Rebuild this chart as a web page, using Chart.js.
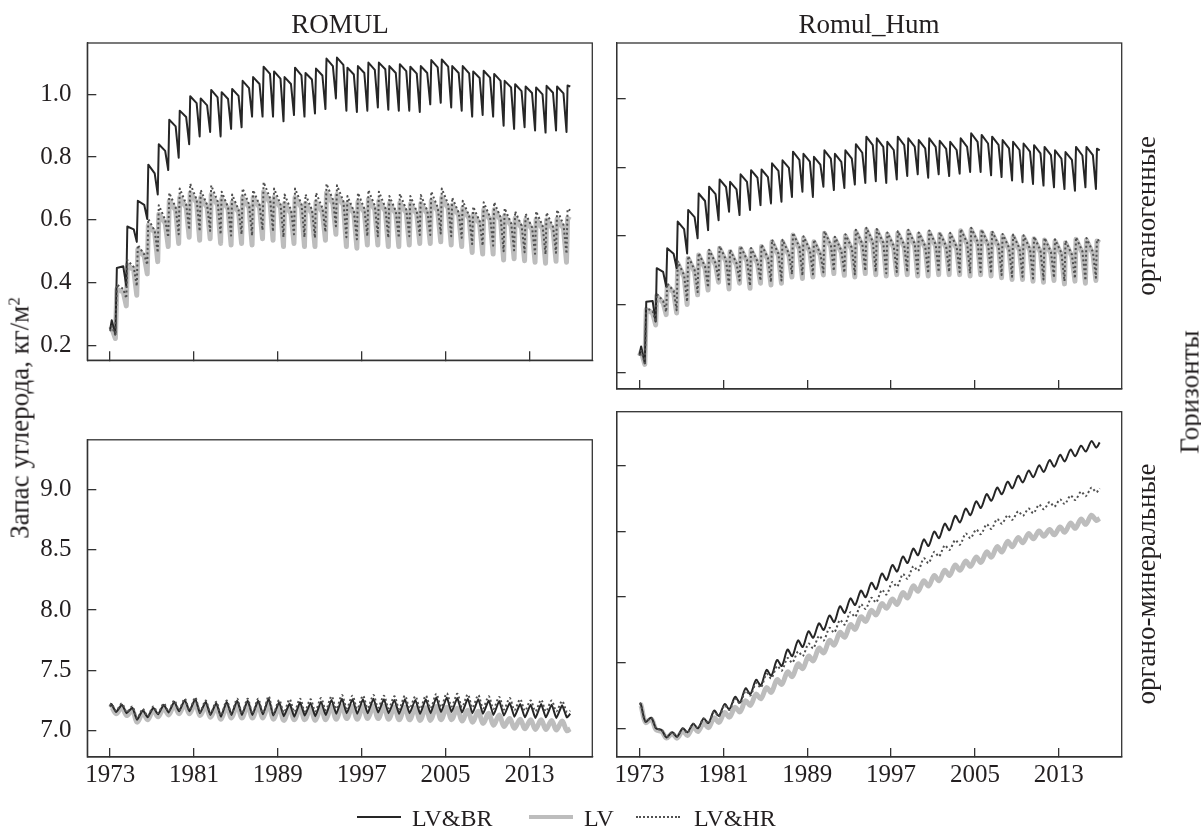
<!DOCTYPE html>
<html><head><meta charset="utf-8">
<script src="https://cdn.jsdelivr.net/npm/chart.js@4.4.1/dist/chart.umd.min.js"></script>
<style>
html,body{margin:0;padding:0;background:#fff;}
#wrap{position:relative;width:1201px;height:827px;overflow:hidden;font-family:"Liberation Serif","Times New Roman",serif;color:#231f20;}
canvas{position:absolute;}
.t{position:absolute;white-space:nowrap;line-height:1;transform:translate(-50%,-50%);}
.r{position:absolute;white-space:nowrap;line-height:1;transform:translate(-50%,-50%) rotate(-90deg);}
.lg{position:absolute;white-space:nowrap;line-height:1;font-size:24px;transform:translateY(-50%);}
.ln{position:absolute;height:0;}
sup{font-size:0.62em;vertical-align:0.55em;line-height:0;}
</style></head><body>
<div id="wrap">
<canvas id="cTL" width="600" height="400" style="left:0;top:0"></canvas>
<canvas id="cTR" width="601" height="400" style="left:600px;top:0"></canvas>
<canvas id="cBL" width="600" height="427" style="left:0;top:400px"></canvas>
<canvas id="cBR" width="601" height="427" style="left:600px;top:400px"></canvas>

<div class="t" style="left:340px;top:24px;font-size:27px">ROMUL</div>
<div class="t" style="left:869px;top:24px;font-size:27px">Romul_Hum</div>
<div class="r" style="left:1146px;top:216px;font-size:27px">органогенные</div>
<div class="r" style="left:1146px;top:584px;font-size:27px">органо-минеральные</div>
<div class="r" style="left:1190px;top:392px;font-size:27px">Горизонты</div>
<div class="r" style="left:20px;top:418px;font-size:27px">Запас углерода, кг/м<sup>2</sup></div>

<div class="ln" style="left:357px;top:816px;width:44px;border-top:2.5px solid #262626"></div>
<div class="lg" style="left:412px;top:818px">LV&amp;BR</div>
<div class="ln" style="left:529px;top:815px;width:44px;border-top:4px solid #bdbdbd"></div>
<div class="lg" style="left:584px;top:818px">LV</div>
<div class="ln" style="left:636px;top:816px;width:44px;border-top:2px dotted #505050"></div>
<div class="lg" style="left:694px;top:818px">LV&amp;HR</div>
</div>
<script>
// ---------- categories / ticks ----------
const years = [1973,1974,1975,1976,1977,1978,1979,1980,1981,1982,1983,1984,1985,1986,1987,1988,1989,1990,1991,1992,1993,1994,1995,1996,1997,1998,1999,2000,2001,2002,2003,2004,2005,2006,2007,2008,2009,2010,2011,2012,2013,2014,2015,2016];
const xTickValues = [1973,1981,1989,1997,2005,2013];
const xTickLabels = ['1973','1981','1989','1997','2005','2013'];
const topTickValues = [0.2,0.4,0.6,0.8,1.0];
const topTickLabels = ['0.2','0.4','0.6','0.8','1.0'];
const botTickValues = [7.0,7.5,8.0,8.5,9.0];
const botTickLabels = ['7.0','7.5','8.0','8.5','9.0'];
const seriesNames = ['LV&BR','LV','LV&HR'];

// time of season points inside each year
const PRE_TIMES = [1973.0, 1973.15, 1973.5];
const PEAK_OFFSET = 0.64, LATE_OFFSET = 1.25, TROUGH_OFFSET = 1.54;
const MAX_OFFSET = 0.12, MIN_OFFSET = 0.57;
const START_YEAR = 1973.0, END_YEAR = 2016.9;

// ---------- ROMUL, органогенные ----------
const tlBrPre = [0.25, 0.28, 0.235];
const tlBrPeak = [.447,.579,.661,.776,.841,.919,.948,.994,.987,1.014,1.007,1.017,1.043,1.055,1.088,1.073,1.055,1.085,1.068,1.082,1.114,1.117,1.085,1.09,1.101,1.101,1.09,1.096,1.088,1.09,1.109,1.111,1.09,1.09,1.073,1.075,1.065,1.043,1.032,1.025,1.022,1.027,1.025,1.028];
const tlBrLate = [.452,.57,.648,.748,.82,.898,.928,.972,.965,.99,.985,.995,1.02,1.033,1.065,1.05,1.033,1.06,1.047,1.06,1.09,1.094,1.063,1.068,1.078,1.08,1.068,1.074,1.066,1.068,1.086,1.088,1.068,1.067,1.052,1.053,1.043,1.022,1.01,1.004,1.0,1.005,1.003,1.025];
const tlBrTrough = [.39,.53,.603,.681,.759,.798,.841,.866,.88,.866,.89,.895,.929,.929,.929,.914,.934,.929,.939,.953,.987,.948,.944,.948,.958,.951,.948,.948,.944,.968,.973,.958,.948,.929,.934,.929,.90,.89,.895,.885,.878,.885,.88];

const tlLvPre = [0.25, 0.255, 0.222];
const tlLvPeak = [.379,.457,.506,.583,.618,.661,.671,.686,.671,.681,.666,.656,.671,.671,.69,.671,.652,.671,.652,.657,.686,.681,.652,.657,.666,.661,.652,.654,.65,.652,.661,.671,.647,.637,.618,.632,.632,.613,.605,.60,.602,.60,.603,.605];
const tlLvLate = [.37,.44,.485,.56,.59,.63,.64,.655,.64,.648,.635,.625,.64,.64,.655,.64,.62,.64,.62,.625,.652,.648,.62,.625,.632,.628,.62,.622,.618,.62,.628,.637,.615,.605,.588,.60,.60,.582,.575,.57,.572,.57,.573,.60];
const tlLvTrough = [.326,.36,.428,.467,.515,.525,.545,.535,.54,.525,.52,.525,.52,.54,.535,.515,.525,.515,.515,.535,.554,.515,.51,.52,.52,.515,.515,.52,.525,.525,.53,.52,.515,.496,.491,.491,.472,.476,.47,.465,.462,.468,.465];

const tlHrPre = [0.245, 0.262, 0.232];
const tlHrPeak = [.394,.472,.52,.603,.647,.686,.70,.715,.695,.71,.69,.681,.70,.695,.72,.70,.681,.70,.681,.686,.715,.71,.676,.686,.695,.69,.676,.683,.676,.679,.69,.70,.671,.661,.642,.656,.656,.637,.627,.62,.627,.623,.632,.635];
const tlHrLate = [.38,.45,.49,.565,.60,.64,.65,.665,.648,.66,.64,.632,.65,.648,.67,.65,.632,.65,.632,.638,.665,.66,.628,.636,.645,.64,.628,.633,.627,.63,.64,.65,.623,.613,.596,.608,.608,.59,.582,.576,.582,.578,.585,.63];
const tlHrTrough = [.35,.389,.457,.496,.545,.554,.569,.564,.565,.554,.55,.554,.55,.567,.563,.545,.554,.545,.543,.562,.58,.545,.538,.548,.548,.543,.543,.548,.552,.552,.557,.548,.543,.523,.518,.518,.50,.503,.497,.492,.49,.495,.492];

// ---------- Romul_Hum, органогенные ----------
const trBrPre = [0.253, 0.277, 0.228];
const trBrPeak = [.408,.506,.564,.642,.676,.724,.744,.765,.758,.78,.792,.794,.812,.821,.846,.84,.831,.85,.84,.85,.868,.89,.885,.875,.89,.885,.88,.885,.878,.875,.885,.90,.895,.89,.88,.875,.87,.865,.86,.85,.845,.86,.86,.855];
const trBrLate = [.41,.495,.548,.62,.655,.702,.722,.743,.736,.758,.77,.772,.79,.799,.822,.817,.808,.826,.816,.826,.843,.865,.86,.851,.865,.861,.856,.86,.854,.851,.86,.875,.87,.866,.856,.851,.846,.841,.836,.826,.822,.835,.836,.85];
const trBrTrough = [.35,.452,.506,.549,.593,.617,.646,.671,.661,.676,.69,.695,.70,.714,.729,.714,.744,.734,.74,.75,.755,.76,.755,.765,.775,.78,.77,.78,.775,.782,.787,.787,.777,.772,.762,.757,.752,.747,.742,.737,.732,.742,.737];

const trLvPre = [0.25, 0.262, 0.225];
const trLvPeak = [.385,.425,.455,.52,.535,.544,.554,.564,.554,.564,.559,.569,.583,.583,.603,.593,.583,.608,.592,.60,.612,.618,.615,.605,.608,.612,.605,.61,.605,.603,.615,.618,.612,.608,.60,.598,.597,.592,.588,.585,.58,.59,.588,.585];
const trLvLate = [.375,.405,.435,.48,.495,.505,.515,.525,.515,.525,.52,.53,.543,.543,.562,.553,.543,.568,.552,.56,.572,.578,.575,.565,.568,.572,.565,.57,.565,.563,.575,.578,.572,.568,.56,.558,.557,.552,.548,.545,.54,.55,.548,.58];
const trLvTrough = [.34,.37,.375,.40,.428,.442,.465,.445,.462,.447,.462,.457,.462,.48,.476,.48,.486,.49,.485,.48,.49,.487,.483,.487,.487,.483,.483,.487,.487,.487,.483,.487,.483,.478,.473,.473,.468,.465,.47,.46,.468,.462,.47];

const trHrPre = [0.25, 0.265, 0.228];
const trHrPeak = [.39,.431,.461,.526,.541,.55,.56,.57,.56,.57,.565,.575,.589,.589,.609,.599,.589,.614,.598,.605,.618,.624,.62,.61,.614,.618,.61,.616,.61,.609,.62,.624,.618,.614,.606,.604,.602,.598,.594,.59,.586,.596,.594,.59];
const trHrLate = [.38,.41,.44,.485,.50,.51,.52,.53,.52,.53,.525,.535,.548,.548,.567,.558,.548,.573,.557,.565,.577,.583,.58,.57,.573,.577,.57,.575,.57,.568,.58,.583,.577,.573,.565,.563,.562,.557,.553,.55,.545,.555,.553,.585];
const trHrTrough = [.348,.378,.383,.408,.436,.45,.473,.453,.47,.455,.47,.465,.47,.488,.484,.488,.494,.498,.493,.488,.498,.495,.491,.495,.495,.491,.491,.495,.495,.495,.491,.495,.491,.486,.481,.481,.476,.473,.478,.468,.476,.47,.478];

// ---------- ROMUL, органо-минеральные ----------
const blBrStart = 7.20, blBrEnd = 7.14;
const blBrMax = [7.22,7.215,7.19,7.17,7.19,7.215,7.24,7.255,7.265,7.24,7.23,7.24,7.25,7.25,7.25,7.265,7.235,7.225,7.235,7.23,7.24,7.255,7.265,7.26,7.26,7.265,7.26,7.255,7.26,7.255,7.26,7.275,7.275,7.27,7.265,7.26,7.25,7.245,7.23,7.22,7.215,7.22,7.215,7.21];
const blBrMin = [7.155,7.145,7.09,7.11,7.135,7.15,7.16,7.16,7.145,7.13,7.115,7.13,7.13,7.13,7.135,7.125,7.12,7.115,7.125,7.12,7.13,7.14,7.145,7.14,7.145,7.15,7.145,7.14,7.145,7.14,7.145,7.155,7.155,7.15,7.145,7.14,7.13,7.125,7.115,7.11,7.105,7.11,7.105,7.11];
const blLvStart = 7.19, blLvEnd = 7.015;
const blLvMax = [7.20,7.195,7.17,7.15,7.17,7.19,7.21,7.22,7.225,7.205,7.195,7.20,7.21,7.21,7.21,7.22,7.195,7.19,7.19,7.185,7.19,7.20,7.205,7.20,7.20,7.205,7.20,7.195,7.195,7.19,7.19,7.20,7.195,7.185,7.17,7.16,7.145,7.13,7.10,7.095,7.09,7.09,7.085,7.08];
const blLvMin = [7.14,7.125,7.07,7.09,7.115,7.13,7.14,7.14,7.125,7.11,7.095,7.105,7.105,7.105,7.105,7.095,7.085,7.09,7.09,7.085,7.09,7.095,7.10,7.095,7.10,7.10,7.095,7.09,7.09,7.085,7.085,7.09,7.09,7.08,7.07,7.06,7.045,7.035,7.02,7.015,7.01,7.01,7.005,7.00];
const blHrStart = 7.21, blHrEnd = 7.165;
const blHrMax = [7.225,7.225,7.20,7.18,7.20,7.225,7.25,7.265,7.275,7.25,7.24,7.25,7.265,7.265,7.265,7.285,7.255,7.26,7.265,7.26,7.27,7.285,7.295,7.29,7.29,7.295,7.29,7.285,7.29,7.285,7.29,7.305,7.31,7.305,7.30,7.295,7.285,7.28,7.27,7.26,7.25,7.255,7.25,7.245];
const blHrMin = [7.165,7.155,7.10,7.12,7.145,7.16,7.17,7.17,7.155,7.14,7.125,7.14,7.14,7.14,7.145,7.135,7.15,7.155,7.16,7.16,7.17,7.18,7.185,7.18,7.185,7.19,7.185,7.18,7.185,7.18,7.185,7.195,7.20,7.195,7.19,7.185,7.18,7.175,7.17,7.165,7.16,7.16,7.16,7.155];

// ---------- Romul_Hum, органо-минеральные ----------
const brBrStart = 7.19, brBrEnd = 9.18;
const brBrMax = [7.185,7.08,6.985,6.97,7.0,7.035,7.075,7.135,7.185,7.24,7.305,7.37,7.445,7.52,7.60,7.67,7.74,7.80,7.86,7.93,7.99,8.05,8.11,8.18,8.245,8.31,8.37,8.44,8.50,8.56,8.62,8.675,8.73,8.785,8.835,8.88,8.925,8.965,9.005,9.045,9.085,9.125,9.155,9.19];
const brBrMin = [7.05,7.0,6.93,6.935,6.97,7.0,7.04,7.095,7.145,7.195,7.26,7.325,7.40,7.475,7.55,7.62,7.69,7.75,7.81,7.88,7.94,8.0,8.06,8.13,8.195,8.26,8.32,8.39,8.45,8.51,8.57,8.625,8.68,8.735,8.785,8.83,8.875,8.915,8.955,8.995,9.035,9.075,9.11,9.14];
const brLvStart = 7.18, brLvEnd = 8.60;
const brLvMax = [7.18,7.07,6.975,6.96,6.98,7.01,7.04,7.08,7.12,7.16,7.21,7.26,7.31,7.37,7.43,7.49,7.55,7.61,7.67,7.73,7.79,7.85,7.90,7.95,7.985,8.035,8.085,8.125,8.165,8.205,8.245,8.275,8.305,8.345,8.385,8.425,8.455,8.485,8.505,8.515,8.535,8.565,8.595,8.625];
const brLvMin = [7.045,6.99,6.925,6.925,6.945,6.975,7.005,7.045,7.085,7.125,7.175,7.225,7.275,7.335,7.395,7.455,7.515,7.575,7.635,7.695,7.755,7.815,7.865,7.915,7.945,7.995,8.045,8.085,8.125,8.165,8.205,8.235,8.265,8.305,8.345,8.385,8.415,8.445,8.465,8.475,8.495,8.525,8.555,8.585];
const brHrStart = 7.19, brHrEnd = 8.83;
const brHrMax = [7.185,7.08,6.985,6.97,6.995,7.035,7.075,7.125,7.175,7.225,7.285,7.345,7.415,7.475,7.535,7.585,7.645,7.705,7.765,7.825,7.885,7.945,7.995,8.055,8.115,8.175,8.235,8.295,8.345,8.395,8.435,8.485,8.515,8.555,8.595,8.625,8.655,8.675,8.705,8.725,8.745,8.775,8.805,8.835];
const brHrMin = [7.05,7.0,6.93,6.935,6.965,7.0,7.04,7.09,7.14,7.19,7.25,7.31,7.38,7.44,7.50,7.55,7.61,7.67,7.73,7.79,7.85,7.91,7.96,8.02,8.08,8.14,8.20,8.26,8.31,8.36,8.40,8.45,8.48,8.52,8.56,8.59,8.62,8.64,8.67,8.69,8.71,8.74,8.77,8.80];

// ---------- axis ranges ----------
const X_MIN = 1970.82, X_MAX = 2019.0;
const TOP_MIN = 0.153, TOP_MAX = 1.1635;
const BOT_MIN = 6.781, BOT_MAX = 9.414;

// ---------- builders ----------
function sawSeries(pre, P, L, T){
  const pts = PRE_TIMES.map((t,i)=>({x:t, y:pre[i]}));
  years.forEach((yr,k)=>{
    pts.push({x:yr+PEAK_OFFSET, y:P[k]});
    if (k < years.length-1){
      pts.push({x:yr+LATE_OFFSET, y:L[k]});
      pts.push({x:yr+TROUGH_OFFSET, y:T[k]});
    } else {
      pts.push({x:END_YEAR, y:L[k]});
    }
  });
  return pts;
}
function waveSeries(start, MX, MN, end){
  const pts = [{x:START_YEAR, y:start}];
  years.forEach((yr,k)=>{
    pts.push({x:yr+MAX_OFFSET, y:MX[k]});
    pts.push({x:yr+MIN_OFFSET, y:MN[k]});
  });
  pts.push({x:END_YEAR, y:end});
  return pts;
}

const FONT = '"Liberation Serif","Times New Roman",serif';
const AX = '#333333';
const STY = {
  br:{borderColor:'#262626', borderWidth:2},
  lv:{borderColor:'#bdbdbd', borderWidth:5},
  hr:{borderColor:'#505050', borderWidth:2, borderDash:[2,2.5]}
};
function ds(name, key, data, tension){
  return Object.assign({label:name, data:data, tension:tension, pointRadius:0, fill:false,
    order: key==='hr'?1:(key==='br'?2:3), borderCapStyle:'butt', borderJoinStyle:'round'}, STY[key]);
}

const framePlugin = {id:'frame', afterDraw(chart){
  const a = chart.chartArea, c = chart.ctx;
  c.save(); c.strokeStyle = AX; c.lineWidth = 1.3;
  c.strokeRect(a.left, a.top, a.right-a.left, a.bottom-a.top); c.restore();
}};

function makeChart(id, datasets, cfg){
  return new Chart(document.getElementById(id), {
    type:'line',
    data:{datasets:datasets},
    plugins:[framePlugin],
    options:{
      responsive:false, animation:false, devicePixelRatio:1,
      layout:{padding:cfg.pad},
      plugins:{legend:{display:false}, tooltip:{enabled:false}},
      scales:{
        x:{type:'linear', min:X_MIN, max:X_MAX,
          afterBuildTicks:s=>{s.ticks = xTickValues.map(v=>({value:v}));},
          afterFit:s=>{s.height = cfg.xh;},
          ticks:{display:cfg.showX, autoSkip:false, maxRotation:0, padding:12.5, color:'#231f20',
                 font:{family:FONT, size:25}, callback:(v,i)=>xTickLabels[i]},
          grid:{drawOnChartArea:false, drawTicks:true, tickLength:-9, color:AX, lineWidth:1.3},
          border:{display:true, color:AX, width:1.3}},
        y:{type:'linear', min:cfg.yMin, max:cfg.yMax,
          afterBuildTicks:s=>{s.ticks = cfg.yTicks.map(v=>({value:v}));},
          afterFit:s=>{s.width = cfg.yw;},
          ticks:{display:cfg.showY, autoSkip:false, padding:24.8, color:'#231f20',
                 font:{family:FONT, size:25}, callback:(v,i)=>cfg.yLabels[i]},
          grid:{drawOnChartArea:false, drawTicks:true, tickLength:-9, color:AX, lineWidth:1.3},
          border:{display:true, color:AX, width:1.3}}
      }
    }
  });
}

makeChart('cTL', [
  ds(seriesNames[2],'hr', sawSeries(tlHrPre, tlHrPeak, tlHrLate, tlHrTrough), 0),
  ds(seriesNames[0],'br', sawSeries(tlBrPre, tlBrPeak, tlBrLate, tlBrTrough), 0),
  ds(seriesNames[1],'lv', sawSeries(tlLvPre, tlLvPeak, tlLvLate, tlLvTrough), 0)
], {pad:{left:0,top:43,right:7.7,bottom:0}, xh:11, yw:87.3, showX:false, showY:true,
    yMin:TOP_MIN, yMax:TOP_MAX, yTicks:topTickValues, yLabels:topTickLabels});

makeChart('cTR', [
  ds(seriesNames[2],'hr', sawSeries(trHrPre, trHrPeak, trHrLate, trHrTrough), 0),
  ds(seriesNames[0],'br', sawSeries(trBrPre, trBrPeak, trBrLate, trBrTrough), 0),
  ds(seriesNames[1],'lv', sawSeries(trLvPre, trLvPeak, trLvLate, trLvTrough), 0)
], {pad:{left:0,top:43,right:79.3,bottom:0}, xh:11, yw:16.7, showX:false, showY:false,
    yMin:TOP_MIN, yMax:TOP_MAX, yTicks:topTickValues, yLabels:topTickLabels});

makeChart('cBL', [
  ds(seriesNames[2],'hr', waveSeries(blHrStart, blHrMax, blHrMin, blHrEnd), 0.3),
  ds(seriesNames[0],'br', waveSeries(blBrStart, blBrMax, blBrMin, blBrEnd), 0.15),
  ds(seriesNames[1],'lv', waveSeries(blLvStart, blLvMax, blLvMin, blLvEnd), 0.35)
], {pad:{left:0,top:11.7,right:7.7,bottom:0}, xh:70, yw:87.3, showX:true, showY:true,
    yMin:BOT_MIN, yMax:BOT_MAX, yTicks:botTickValues, yLabels:botTickLabels});

makeChart('cBR', [
  ds(seriesNames[2],'hr', waveSeries(brHrStart, brHrMax, brHrMin, brHrEnd), 0.3),
  ds(seriesNames[0],'br', waveSeries(brBrStart, brBrMax, brBrMin, brBrEnd), 0.3),
  ds(seriesNames[1],'lv', waveSeries(brLvStart, brLvMax, brLvMin, brLvEnd), 0.35)
], {pad:{left:0,top:11.7,right:79.3,bottom:0}, xh:70, yw:16.7, showX:true, showY:false,
    yMin:BOT_MIN, yMax:BOT_MAX, yTicks:botTickValues, yLabels:botTickLabels});
</script>
</body></html>
